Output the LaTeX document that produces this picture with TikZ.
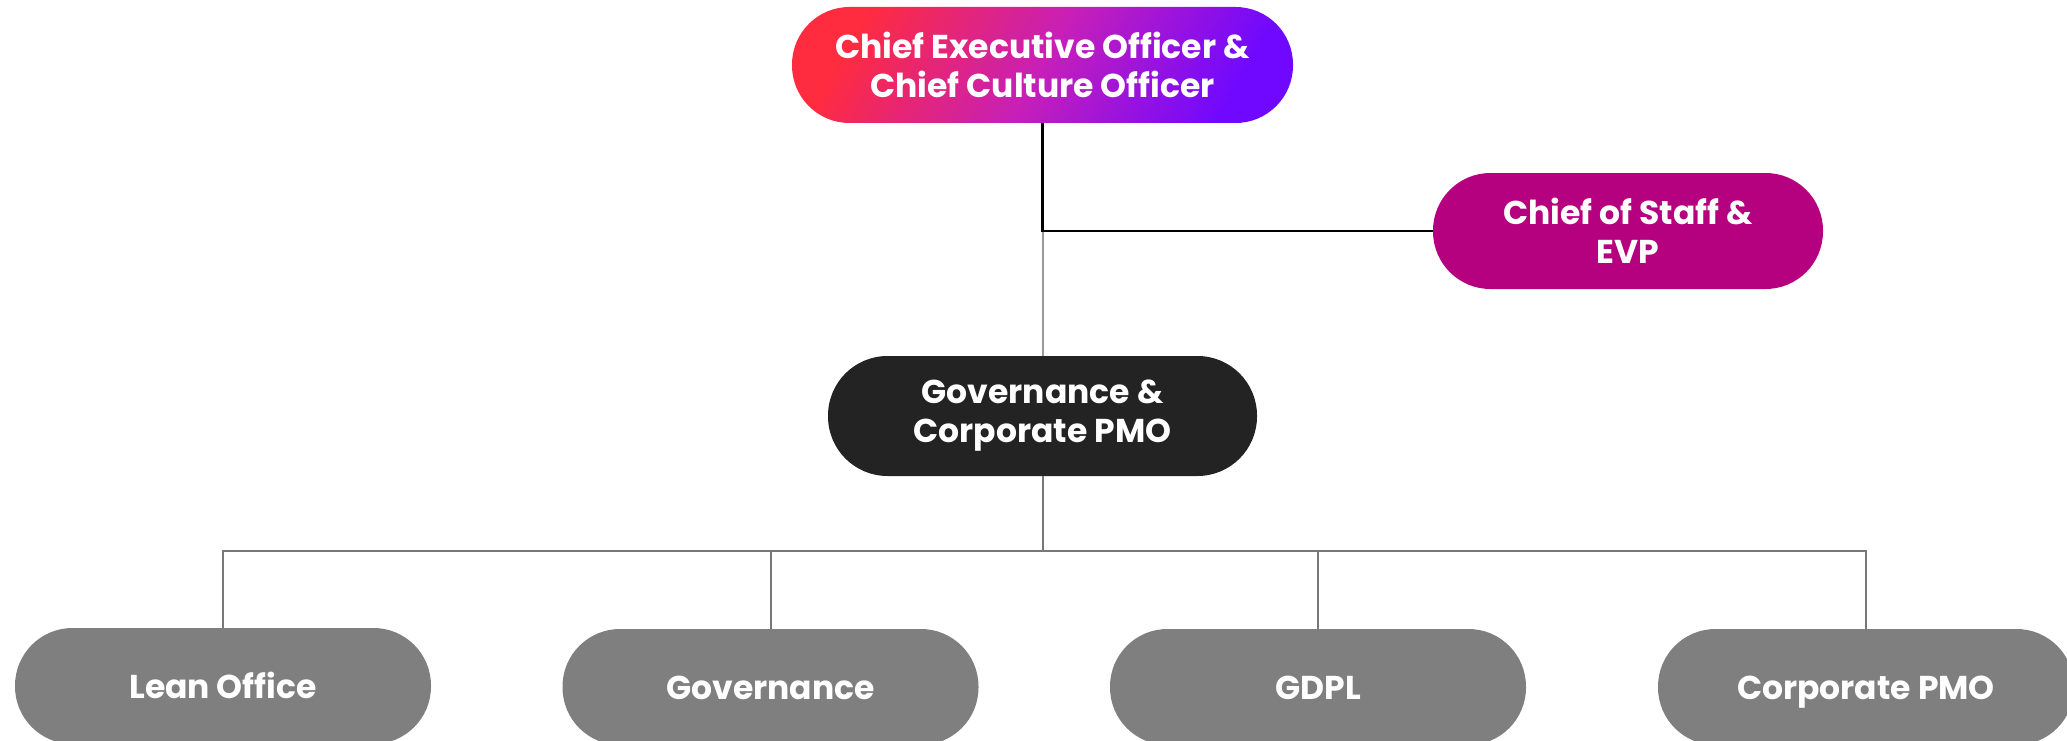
\documentclass[tikz,border=0pt]{standalone}
\usepackage{fontspec}
\setmainfont{Poppins}
\usetikzlibrary{calc}
\definecolor{ceoA}{HTML}{FF2B3E}
\definecolor{ceoM}{HTML}{C71FB8}
\definecolor{ceoB}{HTML}{7008FF}
\definecolor{cosC}{HTML}{B5007F}
\definecolor{govC}{HTML}{232323}
\definecolor{subC}{HTML}{7F7F80}
\definecolor{busC}{HTML}{787878}
\definecolor{lgC}{HTML}{9A9A9A}
\begin{document}
\begin{tikzpicture}[x=1pt,y=-1pt,
  box/.style={rectangle, rounded corners=57.5pt, minimum height=116pt, text=white,
    font=\fontsize{33}{39}\selectfont\bfseries, align=center, inner sep=0pt},
  onebox/.style={box, text height=24pt, text depth=0pt},
  topline/.style={draw=black, line width=2.2pt},
  midline/.style={draw=lgC, line width=2pt},
  busline/.style={draw=busC, line width=2pt}]
\useasboundingbox (0,0) rectangle (2067,741);
\coordinate (j1) at (1042.5,231);
\coordinate (bus) at (1042.5,551);
% nodes
\node[box, minimum width=501pt, left color=ceoA, right color=ceoB, middle color=ceoM, shading angle=60] (ceo) at (1042.5,65) {Chief Executive Officer \&\\Chief Culture Officer};
\node[box, minimum width=390pt, fill=cosC] (cos) at (1628,231) {Chief of Staff \&\\EVP};
\node[box, minimum width=429pt, minimum height=120pt, rounded corners=59.5pt, fill=govC] (gov) at (1042.5,416) {Governance \&\\Corporate PMO};
\node[onebox, minimum width=416pt, fill=subC] (lean) at (223,686) {Lean Office};
\node[onebox, minimum width=416pt, fill=subC] (govn) at (770.5,687) {Governance};
\node[onebox, minimum width=416pt, fill=subC] (gdpl) at (1318,687) {GDPL};
\node[onebox, minimum width=416pt, fill=subC] (cpmo) at (1866,687) {Corporate PMO};
% lines
\draw[midline] (j1) -- (gov.north);
\draw[topline] (ceo.south) -- (j1) -- (cos.west);
\draw[busline] (gov.south) -- (bus);
\draw[busline] (bus) -| (lean.north);
\draw[busline] (bus) -| (govn.north);
\draw[busline] (bus) -| (gdpl.north);
\draw[busline] (bus) -| (cpmo.north);
\end{tikzpicture}
\end{document}
